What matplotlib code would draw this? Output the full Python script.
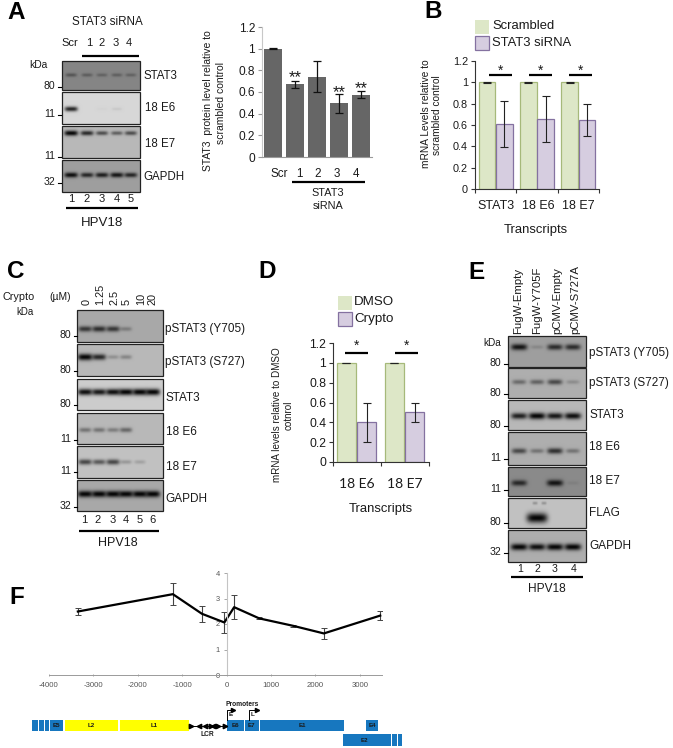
import numpy as np
import matplotlib
matplotlib.use("Agg")
import matplotlib.pyplot as plt
from matplotlib.patches import Rectangle

plt.rcParams['font.family'] = ['Liberation Sans', 'DejaVu Sans']
plt.rcParams['axes.unicode_minus'] = False

W, H = 673, 748

# panel A chart
a_cats = ['Scr', '1', '2', '3', '4']
a_vals = [1.0, 0.67, 0.74, 0.495, 0.575]
a_err = [0.003, 0.03, 0.143, 0.085, 0.03]

# panel B chart
b_cats = ['STAT3', '18 E6', '18 E7']
b_scr = [1, 1, 1]
b_scr_err = [0.002, 0.002, 0.002]
b_si = [0.61, 0.655, 0.645]
b_si_err = [0.212, 0.218, 0.152]

# panel D chart
d_cats = ['18 E6', '18 E7']
d_dmso = [1, 1]
d_dmso_err = [0.002, 0.002]
d_cry = [0.4, 0.5]
d_cry_err = [0.2, 0.1]

# panel F line
f_pos = [-3350, -1210, -555, -50, 170, 735, 1495, 2190, 3460]
f_val = [2.49, 3.17, 2.40, 2.06, 2.66, 2.22, 1.93, 1.63, 2.33]
f_err = [0.13, 0.43, 0.31, 0.40, 0.48, 0.04, 0.04, 0.20, 0.19]

# genome map, bp
blue_row1 = [(-4390, -4260, ''), (-4240, -4130, ''), (-4100, -4000, ''), (-3980, -3690, 'E5'),
             (0, 375, 'E6'), (400, 715, 'E7'), (745, 2640, 'E1'), (3130, 3400, 'E4')]
yellow_row1 = [(-3650, -2450, 'L2'), (-2410, -860, 'L1')]
blue_row2 = [(2610, 3570, 'E2'), (3590, 3700, ''), (3715, 3830, ''), (3845, 3950, '')]
lcr_right = [-800, -350, -210, -50]
lcr_left = [-640, -500, -310]

# blots: band strength per lane, one list per strip
a_lanes = ['1', '2', '3', '4', '5']
a_names = ['STAT3', '18 E6', '18 E7', 'GAPDH']
a_bands = [[0.38, 0.32, 0.28, 0.3, 0.28],
           [0.85, 0.0, 0.02, 0.07, 0.0],
           [1.0, 0.8, 0.6, 0.5, 0.6],
           [0.95, 0.8, 0.85, 0.9, 0.8]]

c_doses = ['0', '1.25', '2.5', '5', '10', '20']
c_lanes = ['1', '2', '3', '4', '5', '6']
c_names = ['pSTAT3 (Y705)', 'pSTAT3 (S727)', 'STAT3', '18 E6', '18 E7', 'GAPDH']
c_bands = [[0.7, 0.75, 0.7, 0.28, 0.0, 0.0],
           [1.0, 0.8, 0.22, 0.28, 0.0, 0.0],
           [0.95, 0.9, 0.95, 1.0, 1.0, 1.0],
           [0.38, 0.38, 0.33, 0.45, 0.0, 0.0],
           [0.65, 0.55, 0.65, 0.22, 0.17, 0.0],
           [1.0, 1.0, 1.0, 1.0, 1.0, 1.0]]

e_samples = ['FugW-Empty', 'FugW-Y705F', 'pCMV-Empty', 'pCMV-S727A']
e_lanes = ['1', '2', '3', '4']
e_names = ['pSTAT3 (Y705)', 'pSTAT3 (S727)', 'STAT3', '18 E6', '18 E7', 'FLAG', 'GAPDH']
e_bands = [[0.9, 0.15, 0.75, 0.75],
           [0.4, 0.45, 0.6, 0.2],
           [0.85, 1.0, 0.9, 0.95],
           [0.6, 0.35, 0.75, 0.35],
           [0.75, 0.0, 0.9, 0.08],
           [0.0, 1.0, 0.0, 0.0],
           [1.0, 0.95, 1.0, 1.0]]
e_flag_upper = [0.25, 0.25]

GREEN, GREEN_E = '#dde7c7', '#a6b97a'
PURPLE, PURPLE_E = '#d6cde0', '#8471a0'
TXT = '#1a1a1a'

fig = plt.figure(figsize=(W / 100, H / 100), dpi=100, facecolor='white')


def px_axes(x0, y_top, x1, y_bot):
    return fig.add_axes([x0 / W, 1 - y_bot / H, (x1 - x0) / W, (y_bot - y_top) / H])


ov = fig.add_axes([0, 0, 1, 1], zorder=5)
ov.set_xlim(0, W)
ov.set_ylim(H, 0)
ov.axis('off')


def t(x, y, s, size=7.6, ha='center', **kw):
    kw.setdefault('color', TXT)
    ov.text(x, y, s, fontsize=size, ha=ha, va='center', **kw)


def hline(x0, x1, y, lw=1.6):
    ov.plot([x0, x1], [y, y], color='black', lw=lw, solid_capstyle='butt')


def blot(x0, y0, x1, y1, bg, lanes, strengths, band_y, bw=6.5, bh=2.2, extra=None):
    w, h = int(x1 - x0) * 2, int(y1 - y0) * 2
    xx, yy = np.meshgrid(np.linspace(x0, x1, w), np.linspace(y0, y1, h))
    img = np.full((h, w), float(bg))
    bands = [(lx, band_y, s, bw * (0.75 + 0.3 * s), bh * (0.6 + 0.6 * s)) for lx, s in zip(lanes, strengths)]
    if extra:
        bands += extra
    for lx, ly, s, bx, by in bands:
        shape = np.exp(-np.abs((xx - lx) / bx) ** 4 - ((yy - ly) / by) ** 2)
        img = img * (1 - s * shape) + 0.02 * s * shape
    ov.imshow(img, extent=(x0, x1, y1, y0), cmap='gray', vmin=0, vmax=1,
              aspect='auto', interpolation='bilinear', zorder=1)
    ov.add_patch(Rectangle((x0, y0), x1 - x0, y1 - y0, fill=False, ec='#222222', lw=0.9, zorder=2))


def kda(x, y, s, tick_x0, tick_x1):
    t(x, y, s, 7.6, ha='right')
    ov.plot([tick_x0, tick_x1], [y + 1, y + 1], color='black', lw=0.8)


def style_axes(ax, color='#333333', left_color=None):
    for s in ['top', 'right']:
        ax.spines[s].set_visible(False)
    ax.spines['bottom'].set_color(color)
    ax.spines['left'].set_color(left_color or color)
    ax.tick_params(colors=color, width=0.8, length=3, pad=2)
    ax.set_ylim(0, 1.2)
    ax.set_yticks([0, 0.2, 0.4, 0.6, 0.8, 1, 1.2], ['0', '0.2', '0.4', '0.6', '0.8', '1', '1.2'])


def pair_bars(ax, n, first, first_err, second, second_err, off1, off2):
    xs = np.arange(n) + 0.5
    ax.bar(xs + off1, first, 0.4, color=GREEN, edgecolor=GREEN_E, lw=0.9)
    ax.bar(xs + off2, second, 0.4, color=PURPLE, edgecolor=PURPLE_E, lw=0.9)
    ekw = dict(fmt='none', ecolor='#222222', elinewidth=0.8, capsize=2.8, capthick=0.8)
    ax.errorbar(xs + off1, first, yerr=first_err, **ekw)
    ax.errorbar(xs + off2, second, yerr=second_err, **ekw)
    ax.set_xlim(0, n)
    ax.set_xticks(np.arange(n + 1), [''] * (n + 1))


# panel letters
for lx, ly, letter in [(16, 12, 'A'), (433, 11, 'B'), (16, 271, 'C'), (267, 271, 'D'), (476, 272, 'E'), (17, 598, 'F')]:
    t(lx, ly, letter, 17.5, fontweight='bold', color='black')

# ---- A blot
a_x = [71, 87, 102, 117, 131]
t(107, 22, 'STAT3 siRNA', 8.4)
for x, s in zip([70, 89, 102, 116, 129], ['Scr', '1', '2', '3', '4']):
    t(x, 43, s, 8.0)
hline(82, 139, 56)
t(38, 65, 'kDa', 7.4)
a_boxes = [(61, 90, 0.52, 75), (92, 124, 0.84, 109), (126, 158, 0.72, 133), (160, 192, 0.62, 175)]
for (y0, y1, bg, by), vals in zip(a_boxes, a_bands):
    blot(62, y0, 140, y1, bg, a_x, vals, by)
for y, s in [(86, '80'), (114, '11'), (156, '11'), (182, '32')]:
    kda(55, y, s, 58, 61)
for y, x, s in zip([76, 108, 144, 177], [143, 145, 145, 143], a_names):
    t(x, y, s, 8.3, ha='left')
for x, s in zip(a_x, a_lanes):
    t(x, 199, s, 8.0)
hline(66, 138, 208)
t(102, 223, 'HPV18', 9.5)

# ---- A chart
ax = px_axes(262, 27, 372, 157)
ax.bar(range(5), a_vals, 0.82, color='#666666')
ax.errorbar(range(5), a_vals, yerr=a_err, fmt='none', ecolor='#111111', elinewidth=0.9, capsize=3, capthick=0.9)
style_axes(ax, '#9a9a9a', '#c8c8c8')
ax.set_xlim(-0.5, 4.5)
ax.set_xticks([])
ax.tick_params(axis='y', labelsize=8.6, labelcolor=TXT)
ov.text(208, 101, 'STAT3  protein level relative to', rotation=90, fontsize=7.5, ha='center', va='center', color=TXT)
ov.text(221, 103, 'scrambled control', rotation=90, fontsize=7.5, ha='center', va='center', color=TXT)
for x, s in zip([279, 299, 318, 337, 356], a_cats):
    t(x, 174, s, 8.4)
hline(292, 365, 182)
t(328, 193, 'STAT3', 7.8)
t(328, 206, 'siRNA', 7.8)
for x, y in [(295, 78), (339, 93), (361, 89)]:
    t(x, y, '**', 12)

# ---- B chart
ax = px_axes(475, 61, 599, 189)
pair_bars(ax, 3, b_scr, b_scr_err, b_si, b_si_err, -0.21, 0.21)
style_axes(ax)
ax.tick_params(axis='y', labelsize=7.8, labelcolor=TXT)
for (x0, x1) in [(489, 512), (529, 552), (569, 592)]:
    hline(x0, x1, 75)
    t((x0 + x1) / 2, 71, '*', 10)
ov.add_patch(Rectangle((475, 20), 14, 14, fc=GREEN, ec='none'))
ov.add_patch(Rectangle((475, 36), 14, 14, fc=PURPLE, ec=PURPLE_E, lw=0.9))
t(492, 26, 'Scrambled', 9.4, ha='left')
t(492, 43, 'STAT3 siRNA', 9.4, ha='left')
for x, s in zip([496, 538, 578], b_cats):
    t(x, 206, s, 9.0)
t(536, 230, 'Transcripts', 9.4)
ov.text(426, 114, 'mRNA Levels relative to', rotation=90, fontsize=7.3, ha='center', va='center', color=TXT)
ov.text(437, 115, 'scrambled control', rotation=90, fontsize=7.3, ha='center', va='center', color=TXT)

# ---- C blot
c_x = [85, 99, 113, 126, 140, 153]
t(19, 297, 'Crypto', 7.8)
t(60, 297, '(\u00b5M)', 7.4)
t(25, 312, 'kDa', 7.0)
for x, s in zip([87, 100, 114, 127, 141, 153], c_doses):
    ov.text(x, 305, s, rotation=90, fontsize=7.8, ha='center', va='bottom', color=TXT)
c_boxes = [(310, 342, 0.66, 329), (344, 376, 0.72, 357), (379, 410, 0.8, 392),
           (413, 444, 0.72, 430), (446, 478, 0.76, 462), (480, 511, 0.66, 494)]
for (y0, y1, bg, by), vals in zip(c_boxes, c_bands):
    blot(77, y0, 163, y1, bg, c_x, vals, by, bw=7, bh=2.8)
for y, s in [(335, '80'), (370, '80'), (404, '80'), (439, '11'), (471, '11'), (506, '32')]:
    kda(71, y, s, 74, 77)
for y, x, s in zip([329, 362, 398, 432, 467, 499], [165, 165, 165, 166, 166, 165], c_names):
    t(x, y, s, 8.5, ha='left')
for x, s in zip([84, 98, 113, 126, 140, 153], c_lanes):
    t(x, 520, s, 8.0)
hline(79, 159, 531)
t(118, 543, 'HPV18', 9.0)

# ---- D chart
ax = px_axes(333, 343, 429, 462)
pair_bars(ax, 2, d_dmso, d_dmso_err, d_cry, d_cry_err, -0.22, 0.2)
style_axes(ax)
ax.tick_params(axis='y', labelsize=8.7, labelcolor=TXT)
for (x0, x1) in [(345, 368), (395, 418)]:
    hline(x0, x1, 353)
    t((x0 + x1) / 2, 346, '*', 10)
ov.add_patch(Rectangle((338, 296), 14, 14, fc=GREEN, ec='none'))
ov.add_patch(Rectangle((338, 312), 14, 14, fc=PURPLE, ec=PURPLE_E, lw=0.9))
t(354, 302, 'DMSO', 9.6, ha='left')
t(354, 319, 'Crypto', 9.6, ha='left')
for x, s in zip([357, 405], d_cats):
    ov.text(x, 484, s, fontsize=10, ha='center', va='center', color=TXT, family=['Lato', 'DejaVu Sans'])
t(381, 509, 'Transcripts', 9.4)
ov.text(277, 415, 'mRNA levels relative to DMSO', rotation=90, fontsize=7.1, ha='center', va='center', color=TXT)
ov.text(289, 415, 'cotnrol', rotation=90, fontsize=7.1, ha='center', va='center', color=TXT)

# ---- E blot
e_x = [519, 537, 555, 573]
for x, s in zip([518, 537, 557, 575], e_samples):
    ov.text(x, 334, s, rotation=90, fontsize=8.2, ha='center', va='bottom', color=TXT)
t(492, 343, 'kDa', 7.2)
e_boxes = [(336, 367, 0.62, 347), (368, 398, 0.68, 382), (400, 430, 0.72, 416), (432, 465, 0.68, 451),
           (467, 496, 0.54, 483), (498, 528, 0.76, 518), (530, 562, 0.68, 547)]
for i, ((y0, y1, bg, by), vals) in enumerate(zip(e_boxes, e_bands)):
    if e_names[i] == 'FLAG':
        upper = [(lx, 503, s, 2.5, 1.5) for lx, s in zip([535, 544], e_flag_upper)]
        blot(508, y0, 586, y1, bg, e_x, vals, by, bw=10, bh=4.2, extra=upper)
    else:
        blot(508, y0, 586, y1, bg, e_x, vals, by, bw=8, bh=2.8)
for y, s in [(363, '80'), (393, '80'), (425, '80'), (458, '11'), (489, '11'), (522, '80'), (552, '32')]:
    kda(501, y, s, 504, 508)
for y, s in zip([353, 383, 415, 447, 481, 513, 546], e_names):
    t(589, y, s, 8.5, ha='left')
for x, s in zip([520, 537, 555, 574], e_lanes):
    t(x, 569, s, 7.6)
hline(511, 583, 577)
t(547, 589, 'HPV18', 8.6)

# ---- F line
ax = px_axes(49, 573, 382, 675)
ax.errorbar(f_pos, f_val, yerr=f_err, color='black', lw=1.6, ecolor='#444444', elinewidth=0.8, capsize=2, capthick=0.7)
ax.set_xlim(-4000, 3500)
ax.set_ylim(0, 4)
ax.patch.set_alpha(0)
for s in ['top', 'right']:
    ax.spines[s].set_visible(False)
ax.spines['left'].set_position(('data', 0))
ax.spines['left'].set_color('#c4c4c4')
ax.spines['bottom'].set_color('#9a9a9a')
ax.spines['bottom'].set_linewidth(0.7)
ax.set_xticks(np.arange(-4000, 3001, 1000))
ax.set_yticks([0, 1, 2, 3, 4])
ax.tick_params(axis='x', colors='#9a9a9a', labelsize=5.6, labelcolor='#555555', length=2, width=0.6, pad=4, direction='inout')
ax.tick_params(axis='y', colors='#9a9a9a', labelsize=5.4, labelcolor='#555555', length=2, width=0.6, pad=3)

# ---- genome map
gx0, gx1 = 27, 405
gm = px_axes(gx0, 700, gx1, 748)
gm.set_xlim((gx0 - 227) / 0.0444, (gx1 - 227) / 0.0444)
gm.set_ylim(48, 0)
gm.axis('off')
gm.patch.set_alpha(0)


def genes(items, y0, y1, color):
    for a, b, name in items:
        gm.add_patch(Rectangle((a, y0), b - a, y1 - y0, fc=color, ec='none'))
        if name:
            gm.text((a + b) / 2, (y0 + y1) / 2, name, fontsize=4.4, fontweight='bold', ha='center', va='center', color='#1a1a1a')


genes(blue_row1, 20, 31, '#1777bf')
genes(yellow_row1, 20, 31, '#ffff00')
genes(blue_row2, 34, 46, '#1777bf')
gm.plot([-860, 0], [25.5, 25.5], color='black', lw=0.7)
gm.plot(lcr_right, [25.5] * len(lcr_right), '>', color='black', ms=3.2)
gm.plot(lcr_left, [25.5] * len(lcr_left), '<', color='black', ms=3.2)
t(207, 735, 'LCR', 4.8, fontweight='bold')
t(242, 705, 'Promoters', 4.8, fontweight='bold')
for x, x2, label in [(227, 233, 'E'), (249, 257, 'L')]:
    ov.plot([x, x, x2], [720, 710, 710], color='black', lw=0.7)
    ov.plot([x2], [710], '>', color='black', ms=3)
    t(x + 4, 715, label, 4.6, fontweight='bold')

fig.savefig('out.png', dpi=100)
